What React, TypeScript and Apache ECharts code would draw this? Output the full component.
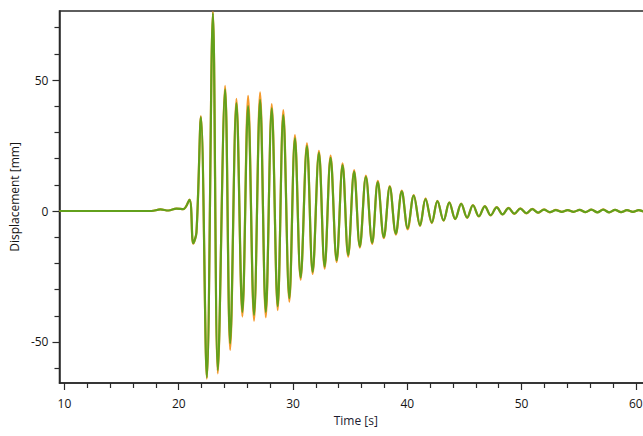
import React, { useEffect, useRef } from "react";
import * as echarts from "echarts";

// Time of each read point (s): flat start, first bump, then the peaks and troughs in turn
const timeS = [
  9.56, 15.0, 17.6, 18.4, 19.1, 19.8, 20.4, 20.94, 21.27, 21.55,
  21.94, 22.46, 22.99, 23.42, 24.06, 24.5, 25.05, 25.57, 26.07, 26.59,
  27.12, 27.62, 28.14, 28.66, 29.15, 29.68, 30.17, 30.67, 31.22, 31.72,
  32.27, 32.77, 33.29, 33.82, 34.34, 34.83, 35.35, 35.85, 36.38, 36.93,
  37.42, 37.95, 38.47, 39.0, 39.52, 40.04, 40.57, 41.12, 41.6, 42.15,
  42.64, 43.18, 43.68, 44.2, 44.72, 45.24, 45.75, 46.27, 46.79, 47.3,
  47.83, 48.34, 48.86, 49.38, 49.9, 50.42, 50.94, 51.45, 51.97, 52.48,
  53.0, 53.52, 54.04, 54.56, 55.08, 55.6, 56.12, 56.64, 57.15, 57.67,
  58.19, 58.71, 59.23, 59.75, 60.26, 60.78, 61.3, 61.45,
];

// Green trace (mm)
const greenMm = [
  0, 0, 0, 0.6, 0.2, 0.9, 0.7, 4.3, -12.3, -8.2,
  35.8, -63.5, 75.5, -60.8, 46.4, -50.5, 41.2, -38.5, 40.0, -39.7,
  42.4, -38.5, 39.2, -36.3, 36.6, -33.3, 27.7, -25.4, 24.8, -23.2,
  22.2, -21.2, 20.3, -18.8, 17.5, -16.8, 15.0, -13.5, 13.0, -12.1,
  11.0, -10.0, 9.2, -8.6, 7.5, -6.6, 5.9, -5.5, 4.5, -4.4,
  3.8, -3.6, 3.2, -3.0, 2.7, -2.5, 2.2, -2.0, 1.8, -1.6,
  1.4, -1.3, 1.1, -1.0, 0.9, -0.8, 0.7, -0.6, 0.5, -0.4,
  0.3, -0.3, 0.3, -0.3, 0.4, -0.4, 0.5, -0.5, 0.5, -0.5,
  0.4, -0.4, 0.3, -0.3, 0.3, -0.2, 0.1, 0,
];

// Orange trace (mm)
const orangeMm = [
  0, 0, 0, 0.6, 0.2, 0.9, 0.7, 4.4, -12.5, -8.2,
  36.2, -64.0, 76.0, -62.0, 47.8, -53.0, 42.8, -40.3, 44.0, -41.9,
  45.3, -40.6, 40.8, -37.8, 38.5, -34.6, 29.0, -26.2, 25.8, -24.0,
  23.0, -22.0, 21.1, -19.5, 18.2, -17.4, 15.6, -14.0, 13.5, -12.6,
  11.5, -10.4, 9.5, -9.0, 7.8, -7.0, 6.1, -5.7, 4.8, -4.6,
  3.9, -3.7, 3.3, -3.1, 2.8, -2.6, 2.3, -2.1, 1.9, -1.7,
  1.5, -1.3, 1.2, -1.1, 1.0, -0.9, 0.8, -0.7, 0.6, -0.5,
  0.4, -0.3, 0.3, -0.3, 0.4, -0.4, 0.5, -0.5, 0.6, -0.5,
  0.4, -0.4, 0.3, -0.3, 0.3, -0.2, 0.1, 0,
];

const xMajorTicks = [10, 20, 30, 40, 50, 60];
const xMinorTicks = [12, 14, 16, 18, 22, 24, 26, 28, 32, 34, 36, 38, 42, 44, 46, 48, 52, 54, 56, 58, 62];
const yMajorTicks = [-50, 0, 50];
const yMinorTicks = [-60, -40, -30, -20, -10, 10, 20, 30, 40, 60, 70];

const X_MIN = 9.563;
const X_MAX = 61.42;
const Y_MIN = -65.65;
const Y_MAX = 76.34;

const FONT = "'Open Sans', 'Noto Sans', sans-serif";
const AXIS_COLOR = "#2a2a2a";
const TEXT_COLOR = "#151515";

export default function App() {
  const ref = useRef<HTMLDivElement>(null);

  useEffect(() => {
    if (!ref.current) return;
    const chart = echarts.init(ref.current, undefined, { renderer: "svg" });

    const greenData = timeS.map((t, i) => [t, greenMm[i]]);
    const orangeData = timeS.map((t, i) => [t, orangeMm[i]]);

    const labelStyle = { fontFamily: FONT, fontSize: 12, color: TEXT_COLOR };

    chart.setOption({
      animation: false,
      backgroundColor: "#ffffff",
      grid: {
        left: 58,
        top: 11,
        width: 594,
        height: 372,
        show: true,
        borderColor: AXIS_COLOR,
        borderWidth: 1.5,
        backgroundColor: "transparent",
      },
      xAxis: [
        {
          type: "value",
          position: "bottom",
          min: X_MIN,
          max: X_MAX,
          axisLine: { show: true, onZero: false, lineStyle: { color: AXIS_COLOR, width: 1.5 } },
          axisTick: { show: true, length: 7, customValues: xMajorTicks, lineStyle: { color: AXIS_COLOR, width: 1.2 } },
          axisLabel: { ...labelStyle, customValues: xMajorTicks, margin: 14 },
          splitLine: { show: false },
          name: "Time [s]",
          nameLocation: "middle",
          nameGap: 31,
          nameTextStyle: { ...labelStyle, color: "#1c1c30" },
        },
        {
          type: "value",
          position: "bottom",
          min: X_MIN,
          max: X_MAX,
          axisLine: { show: false, onZero: false },
          axisTick: { show: true, length: 5, customValues: xMinorTicks, lineStyle: { color: AXIS_COLOR, width: 1.2 } },
          axisLabel: { show: false },
          splitLine: { show: false },
        },
      ],
      yAxis: [
        {
          type: "value",
          position: "left",
          min: Y_MIN,
          max: Y_MAX,
          axisLine: { show: true, onZero: false, lineStyle: { color: AXIS_COLOR, width: 1.5 } },
          axisTick: { show: true, length: 7, customValues: yMajorTicks, lineStyle: { color: AXIS_COLOR, width: 1.2 } },
          axisLabel: { ...labelStyle, customValues: yMajorTicks, margin: 11 },
          splitLine: { show: false },
          name: "Displacement [mm]",
          nameLocation: "middle",
          nameGap: 32,
          nameTextStyle: { ...labelStyle },
        },
        {
          type: "value",
          position: "left",
          min: Y_MIN,
          max: Y_MAX,
          axisLine: { show: false, onZero: false },
          axisTick: { show: true, length: 5, customValues: yMinorTicks, lineStyle: { color: AXIS_COLOR, width: 1.2 } },
          axisLabel: { show: false },
          splitLine: { show: false },
        },
      ],
      series: [
        {
          type: "line",
          name: "orange",
          data: orangeData,
          xAxisIndex: 0,
          yAxisIndex: 0,
          showSymbol: false,
          smooth: 0.36,
          silent: true,
          lineStyle: { color: "#f59a2c", width: 2.2 },
          z: 2,
        },
        {
          type: "line",
          name: "green",
          data: greenData,
          xAxisIndex: 0,
          yAxisIndex: 0,
          showSymbol: false,
          smooth: 0.36,
          silent: true,
          lineStyle: { color: "#62a01c", width: 2.2 },
          z: 3,
        },
      ],
    });

    return () => chart.dispose();
  }, []);

  return (
    <div
      style={{
        position: "absolute",
        left: 0,
        top: 0,
        width: 643,
        height: 436,
        overflow: "hidden",
        background: "#fff",
      }}
    >
      <div ref={ref} style={{ width: 660, height: 436 }} />
    </div>
  );
}
